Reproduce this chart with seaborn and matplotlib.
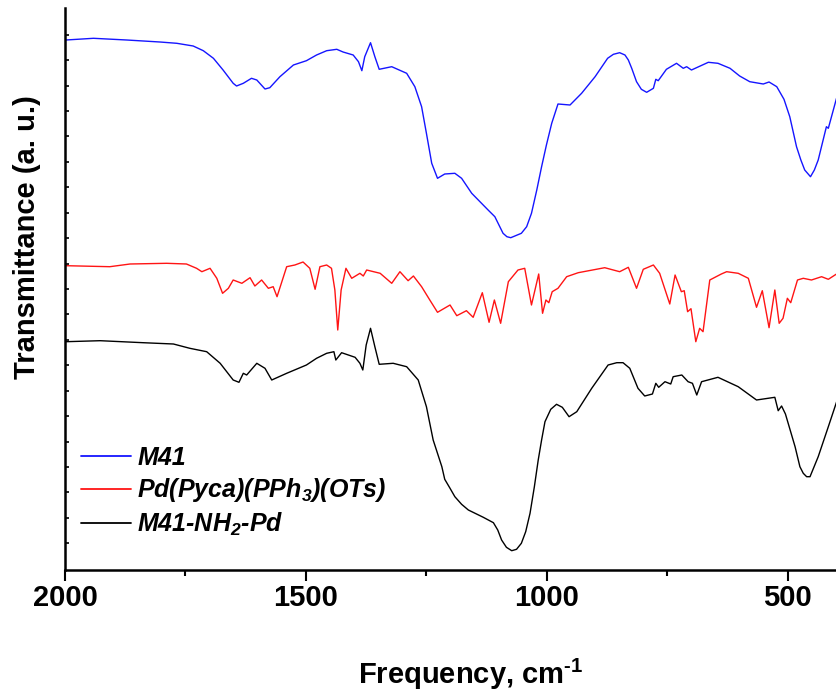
import numpy as np
import pandas as pd
import matplotlib
matplotlib.use("Agg")
import matplotlib.pyplot as plt
from matplotlib.ticker import MultipleLocator, FixedLocator
import seaborn as sns

# FTIR spectra: wavenumber (cm-1) and offset transmittance (a.u.)
m41_wn = [1998, 1941, 1872, 1803, 1768, 1734, 1713, 1692, 1672, 1651, 1644, 1630,
          1613, 1602, 1585, 1575, 1554, 1526, 1499, 1478, 1457, 1436, 1423, 1402,
          1391, 1384, 1378, 1366, 1357, 1348, 1322, 1291, 1274, 1260, 1250, 1239,
          1227, 1212, 1191, 1177, 1156, 1122, 1108, 1091, 1083, 1075, 1053, 1042,
          1032, 1021, 1011, 1001, 990, 977, 952, 928, 900, 874, 862, 849, 838,
          831, 824, 814, 804, 793, 779, 774, 769, 752, 731, 717, 710, 700, 665,
          645, 620, 600, 579, 551, 539, 523, 508, 496, 482, 473, 465, 453, 445,
          437, 420, 416, 399]
m41_t = [530.0, 531.7, 530.0, 528.0, 526.7, 524.0, 519.3, 511.7, 500.0, 486.7, 484.0, 486.7,
         491.7, 490.0, 481.0, 482.3, 493.3, 505.0, 509.3, 515.0, 519.3, 520.7, 518.0, 515.0,
         508.3, 499.3, 513.3, 527.3, 513.3, 500.7, 503.3, 496.7, 483.3, 463.3, 436.7, 406.7,
         391.7, 396.0, 396.7, 391.7, 376.7, 360.0, 353.3, 336.7, 333.3, 332.3, 336.7, 343.3,
         356.7, 380.0, 403.3, 425.0, 446.7, 466.0, 465.0, 476.7, 493.3, 511.7, 515.7, 517.3, 515.0,
         510.0, 501.7, 488.3, 480.7, 477.7, 481.7, 490.7, 489.3, 500.7, 506.7, 501.7, 503.3, 500.0, 507.7,
         506.7, 501.7, 494.0, 488.3, 486.0, 488.0, 483.3, 470.7, 453.3, 423.3, 410.0, 400.0, 393.3, 400.0,
         410.0, 443.3, 441.7, 471.7]

pd_wn = [1998, 1907, 1865, 1789, 1748, 1727, 1716, 1699, 1685, 1673, 1661, 1651,
         1633, 1616, 1606, 1592, 1578, 1568, 1560, 1540, 1523, 1506, 1492, 1481,
         1471, 1457, 1447, 1440, 1434, 1427, 1417, 1405, 1388, 1381, 1374, 1346,
         1322, 1305, 1288, 1277, 1260, 1243, 1227, 1201, 1187, 1167, 1153, 1134,
         1120, 1109, 1096, 1080, 1060, 1046, 1032, 1017, 1009, 1002, 996, 989,
         977, 959, 935, 880, 849, 831, 814, 800, 779, 766, 745, 734, 721, 715,
         708, 701, 691, 683, 676, 662, 638, 627, 603, 582, 565, 553, 539, 527,
         518, 510, 501, 494, 480, 468, 451, 430, 416, 399]
pd_t = [304.3, 303.3, 306.0, 306.7, 306.0, 301.7, 298.3, 301.7, 291.7, 276.7, 281.7, 290.0,
        286.7, 292.3, 284.0, 290.0, 281.7, 283.3, 273.3, 303.3, 305.0, 308.0, 301.7, 280.7,
        303.3, 305.0, 301.7, 280.0, 240.0, 280.0, 301.7, 291.7, 296.7, 294.0, 300.0, 296.7,
        286.7, 298.3, 289.3, 294.0, 283.3, 270.0, 257.7, 265.0, 254.3, 259.3, 252.7, 277.3,
        247.7, 270.0, 246.7, 288.3, 300.0, 301.7, 265.0, 296.0, 256.7, 270.0, 267.3, 278.3,
        281.7, 293.3, 297.3, 302.3, 298.3, 302.7, 281.7, 300.7, 305.0, 296.7, 266.0, 295.0,
        278.3, 279.3, 258.3, 261.3, 228.3, 241.7, 238.3, 290.0, 296.0, 298.3, 296.7, 291.7,
        262.7, 279.3, 242.3, 280.0, 246.7, 251.7, 271.7, 267.3, 290.0, 291.7, 290.0, 293.3,
        290.7, 296.0]

nh2_wn = [1998, 1927, 1838, 1775, 1741, 1706, 1678, 1651, 1639, 1630, 1623, 1602,
          1585, 1571, 1540, 1499, 1478, 1457, 1442, 1438, 1426, 1398, 1388, 1382,
          1375, 1366, 1357, 1348, 1319, 1291, 1267, 1250, 1236, 1218, 1212, 1201,
          1191, 1177, 1163, 1132, 1111, 1102, 1094, 1084, 1073, 1063, 1053, 1044,
          1035, 1026, 1018, 1011, 1004, 992, 980, 968, 954, 938, 907, 873, 855,
          842, 828, 811, 797, 781, 774, 768, 755, 743, 738, 720, 707, 698, 689,
          679, 645, 603, 565, 527, 520, 513, 505, 485, 475, 468, 461, 454, 437,
          416, 398]
nh2_t = [228.3, 229.3, 227.3, 226.0, 221.7, 218.3, 206.7, 190.0, 187.7, 196.7, 195.0, 206.7,
         201.7, 190.0, 196.7, 205.0, 211.7, 216.7, 218.3, 210.0, 217.3, 212.7, 206.7, 200.0,
         225.0, 241.7, 223.3, 205.7, 206.7, 203.3, 190.0, 163.3, 130.0, 103.3, 90.7, 81.7,
         73.3, 65.7, 60.0, 52.7, 47.3, 40.0, 30.0, 22.7, 19.3, 20.7, 26.7, 38.3,
         56.7, 83.3, 110.0, 130.0, 148.3, 160.7, 165.7, 162.7, 153.3, 158.3, 181.7, 205.0, 207.3,
         207.3, 201.7, 181.7, 174.0, 176.0, 186.7, 182.7, 188.3, 186.0, 193.3, 195.0, 188.3, 186.7, 175.0,
         188.3, 192.7, 183.3, 170.0, 172.7, 159.3, 164.0, 156.0, 123.3, 103.3, 96.7, 93.3, 93.3, 113.3,
         143.3, 169.3]

series_names = ["M41", r"Pd(Pyca)(PPh$_\mathbfit{3}$)(OTs)", r"M41-NH$_\mathbfit{2}$-Pd"]
series_colors = ["#1515ff", "#ff1414", "#000000"]

x_ticks = [2000, 1500, 1000, 500]

frames = []
for name, wn, t in zip(series_names, [m41_wn, pd_wn, nh2_wn], [m41_t, pd_t, nh2_t]):
    frames.append(pd.DataFrame({"wavenumber": wn, "transmittance": t, "sample": name}))
spectra = pd.concat(frames, ignore_index=True)

sns.set_theme(style="white")
plt.rcParams["font.family"] = ["Liberation Sans", "DejaVu Sans"]
plt.rcParams["text.color"] = "black"
plt.rcParams["axes.labelcolor"] = "black"
plt.rcParams["xtick.color"] = "black"
plt.rcParams["ytick.color"] = "black"
plt.rcParams["mathtext.fontset"] = "custom"
plt.rcParams["mathtext.bf"] = "Liberation Sans:bold"
plt.rcParams["mathtext.bfit"] = "Liberation Sans:italic:bold"
plt.rcParams["mathtext.rm"] = "Liberation Sans:bold"

fig = plt.figure(figsize=(8.37, 6.92), dpi=100)
ax = fig.add_axes([65 / 837, 122 / 692, 772 / 837, 562 / 692])

sns.lineplot(data=spectra, x="wavenumber", y="transmittance", hue="sample",
             hue_order=series_names, palette=dict(zip(series_names, series_colors)),
             estimator=None, sort=True, linewidth=1.0, ax=ax)

ax.set_xlim(2000, 398)
ax.set_ylim(0, 562)

for side in ["top", "right"]:
    ax.spines[side].set_visible(False)
for side in ["left", "bottom"]:
    ax.spines[side].set_visible(True)
    ax.spines[side].set_color("black")
    ax.spines[side].set_linewidth(1.8)

ax.xaxis.set_major_locator(FixedLocator(x_ticks))
ax.xaxis.set_minor_locator(MultipleLocator(250))
ax.tick_params(axis="x", which="major", direction="out", length=8, width=1.5,
               color="black", labelcolor="black", pad=2, labelsize=21, bottom=True)
ax.tick_params(axis="x", which="minor", direction="out", length=4.5, width=1.5,
               color="black", bottom=True)
for lbl in ax.get_xticklabels():
    lbl.set_fontweight("bold")

ax.yaxis.set_major_locator(FixedLocator(26.7 + 25.43 * np.arange(21)))
ax.tick_params(axis="y", which="major", direction="in", length=3, width=1.2,
               color="black", left=True, labelleft=False)

ax.set_xlabel(r"Frequency, cm$^{\text{-1}}$", fontsize=21, fontweight="bold", color="black")
ax.xaxis.set_label_coords(0.525, -0.155)
ax.set_ylabel("Transmittance (a. u.)", fontsize=21, fontweight="bold", color="black")
ax.yaxis.set_label_coords(-0.031, 0.592)

handles, labels = ax.get_legend_handles_labels()
leg = ax.legend(handles, labels, loc="upper left",
                bbox_to_anchor=(81 / 837, 246 / 692), bbox_transform=fig.transFigure,
                frameon=False, borderpad=0, borderaxespad=0, handlelength=2.0,
                handletextpad=0.25, labelspacing=0.25,
                prop={"family": "Liberation Sans", "weight": "bold", "style": "italic", "size": 18})
for line in leg.get_lines():
    line.set_linewidth(1.3)
for txt in leg.get_texts():
    txt.set_color("black")

fig.savefig("out.png", dpi=100)
